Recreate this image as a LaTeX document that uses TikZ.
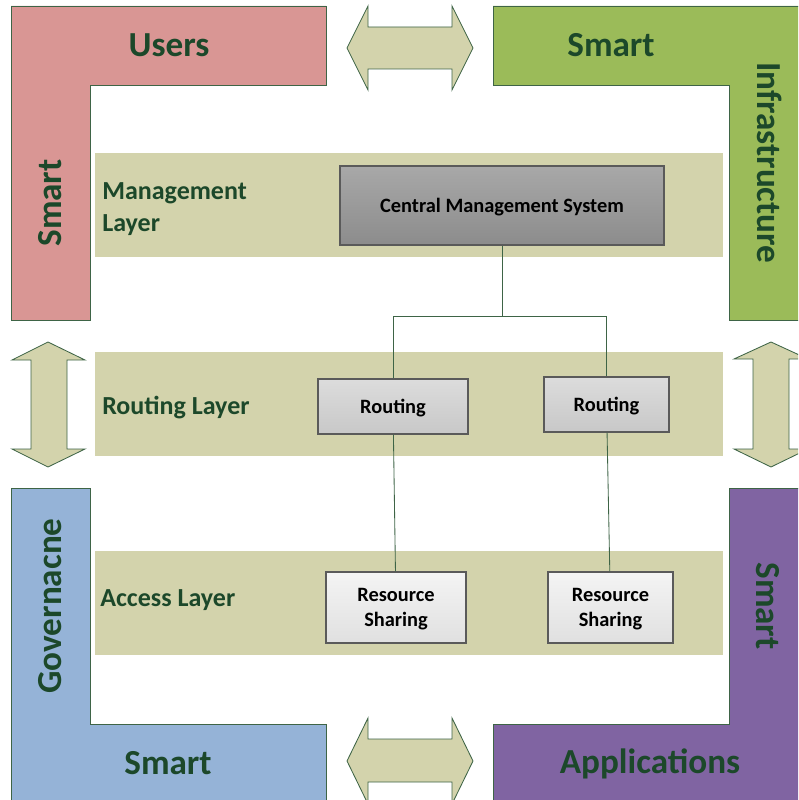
\documentclass[tikz,border=0pt]{standalone}
\usepackage{fontspec}
\setmainfont{Carlito}
\usepackage{tikz}

\definecolor{usersred}{RGB}{217,150,148}
\definecolor{infragreen}{RGB}{155,187,89}
\definecolor{govblue}{RGB}{149,179,215}
\definecolor{appspurple}{RGB}{128,100,162}
\definecolor{bandcol}{RGB}{211,211,172}
\definecolor{edgegreen}{RGB}{62,100,70}
\definecolor{textgreen}{RGB}{28,72,42}
\definecolor{boxgray}{RGB}{90,90,90}

\begin{document}
\begin{tikzpicture}[x=0.025cm, y=-0.025cm]
        \useasboundingbox (0,0) rectangle (798,800);
        \clip (0,0) rectangle (798,800);
        \begin{scope}[draw=edgegreen, line width=0.6pt]
            \filldraw[fill=usersred] (11,6) -- (326,6) -- (326,85) -- (90,85) -- (90,320) -- (11,320) -- cycle;
            \filldraw[fill=infragreen] (493,6) -- (810,6) -- (810,320) -- (729,320) -- (729,85) -- (493,85) -- cycle;
            \filldraw[fill=govblue] (11,488) -- (90,488) -- (90,724) -- (326,724) -- (326,810) -- (11,810) -- cycle;
            \filldraw[fill=appspurple] (729,488) -- (810,488) -- (810,810) -- (493,810) -- (493,724) -- (729,724) -- cycle;

            \filldraw[fill=bandcol] (347,48) -- (368,6) -- (368,27) -- (452,27) -- (452,6) -- (473,48) -- (452,90) -- (452,69) -- (368,69) -- (368,90) -- cycle;
            \filldraw[fill=bandcol] (347,761) -- (368,718) -- (368,739) -- (452,739) -- (452,718) -- (473,761) -- (452,804) -- (452,782) -- (368,782) -- (368,804) -- cycle;
            \filldraw[fill=bandcol] (48,342) -- (85,360) -- (67,360) -- (67,449) -- (85,449) -- (48,467) -- (12,449) -- (31,449) -- (31,360) -- (12,360) -- cycle;
            \filldraw[fill=bandcol] (771,342) -- (808,359) -- (789,359) -- (789,449) -- (808,449) -- (771,467) -- (734,449) -- (753,449) -- (753,359) -- (734,359) -- cycle;
        \end{scope}
        \begin{scope}[every node/.style={fill=bandcol, minimum width=15.7cm, minimum height=2.6cm, inner sep=0}]
            \node (mband) at (409,205) {};
            \node (rband) at (409,404) {};
            \node (aband) at (409,603) {};
        \end{scope}
        \begin{scope}[every node/.style={text=textgreen, inner sep=0, font=\fontsize{25}{30}\selectfont\bfseries}]
            \node[anchor=base] (users) at (169,57) {Users};
            \node[rotate=90] (smartu) at (50,203) {Smart};
            \node[anchor=base] (smarti) at (611,57) {Smart};
            \node[rotate=-90] (infra) at (770,163) {Infrastructure};
            \node[rotate=90] (gov) at (50,606) {Governacne};
            \node[anchor=base] (smartg) at (168,774) {Smart};
            \node[rotate=-90] (smarta) at (768,606) {Smart};
            \node[anchor=base] (apps) at (650,773) {Applications};
        \end{scope}
        \begin{scope}[every node/.style={text=textgreen, inner sep=0, font=\fontsize{18.5}{22.7}\selectfont\bfseries}]
            \node[anchor=west, align=left] (mlabel) at (102,209) {Management\\Layer};
            \node[anchor=base west] (rlabel) at (102,414) {Routing Layer};
            \node[anchor=base west] (alabel) at (100,606) {Access Layer};
        \end{scope}
        \begin{scope}[every node/.style={draw=boxgray, line width=0.8pt, inner sep=0, text depth=0pt, align=center, font=\fontsize{14.5}{17.7}\selectfont\bfseries}]
            \node[top color={rgb,255:red,168;green,168;blue,168}, bottom color={rgb,255:red,140;green,140;blue,140}, minimum width=8.1cm, minimum height=1.975cm] (cms) at (502,205.5) {Central Management System};

            \node[top color={rgb,255:red,220;green,220;blue,220}, bottom color={rgb,255:red,200;green,200;blue,200}, minimum width=3.75cm, minimum height=1.375cm] (r1) at (393,406.5) {Routing};
            \node[top color={rgb,255:red,220;green,220;blue,220}, bottom color={rgb,255:red,200;green,200;blue,200}, minimum width=3.125cm, minimum height=1.375cm] (r2) at (606.5,404.5) {Routing};

            \node[top color={rgb,255:red,244;green,244;blue,244}, bottom color={rgb,255:red,224;green,224;blue,224}, minimum width=3.5cm, minimum height=1.775cm] (rs1) at (396,607.5) {Resource\\Sharing};
            \node[top color={rgb,255:red,244;green,244;blue,244}, bottom color={rgb,255:red,224;green,224;blue,224}, minimum width=3.125cm, minimum height=1.775cm] (rs2) at (610.5,607.5) {Resource\\Sharing};
        \end{scope}
        \coordinate (split) at (502,316);
        \begin{scope}[every edge/.style={draw=edgegreen, line width=0.6pt}, elbow/.style={to path={-| (\tikztotarget)}}]
            \path [-] (cms) edge (split);
            \path [-] (split) edge[elbow] (r1);
            \path [-] (split) edge[elbow] (r2);

            \path [-] (r1) edge (rs1);
            \path [-] (r2) edge (rs2);
        \end{scope}
    \end{tikzpicture}
\end{document}
